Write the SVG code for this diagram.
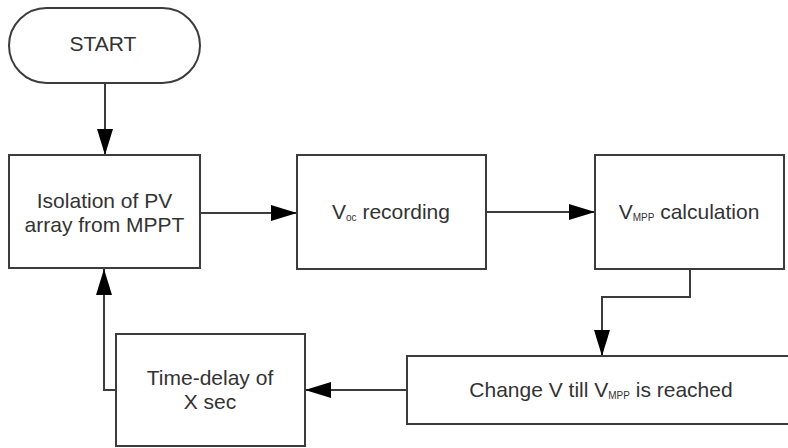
<svg xmlns="http://www.w3.org/2000/svg" width="788" height="448" viewBox="0 0 788 448">
<defs>
<marker id="ah" markerUnits="userSpaceOnUse" markerWidth="26" markerHeight="16" refX="26" refY="8" orient="auto">
<path d="M0,0 L26,8 L0,16 z" fill="#000"/>
</marker>
<style>
.box{fill:#fff;stroke:#3c3c3c;stroke-width:2}
.t{font-family:"Liberation Sans",Arial,sans-serif;font-size:21px;fill:#333;text-anchor:middle}
.sub{font-size:10px}
.c{fill:none;stroke:#3c3c3c;stroke-width:2}
</style>
</defs>
<rect width="788" height="448" fill="#fff"/>
<g id="connectors">
<line class="c" x1="105" y1="83" x2="105" y2="155" marker-end="url(#ah)"/>
<line class="c" x1="200" y1="213" x2="297" y2="213" marker-end="url(#ah)"/>
<line class="c" x1="486" y1="212" x2="595" y2="212" marker-end="url(#ah)"/>
<path class="c" d="M690,269 V297 H602 V356" marker-end="url(#ah)"/>
<line class="c" x1="407" y1="390" x2="305" y2="390" marker-end="url(#ah)"/>
<path class="c" d="M116,390 H104 V269" marker-end="url(#ah)"/>
</g>
<g id="start">
<rect class="box" x="9" y="8" width="191" height="75" rx="37.5" ry="37.5"/>
<text class="t" x="103" y="51">START</text>
</g>
<g id="isolation">
<rect class="box" x="9" y="155" width="191" height="113"/>
<text class="t" x="104.5" y="208">Isolation of PV</text>
<text class="t" x="104.5" y="232">array from MPPT</text>
</g>
<g id="voc">
<rect class="box" x="297" y="155" width="189" height="114"/>
<text class="t" x="391" y="219">V<tspan class="sub" dy="2">oc</tspan><tspan dy="-2"> recording</tspan></text>
</g>
<g id="vmpp">
<rect class="box" x="595" y="155" width="189" height="114"/>
<text class="t" x="689" y="219">V<tspan class="sub" dy="2">MPP</tspan><tspan dy="-2"> calculation</tspan></text>
</g>
<g id="change">
<rect class="box" x="407" y="356" width="390" height="68"/>
<text class="t" x="601" y="397">Change V till V<tspan class="sub" dy="2">MPP</tspan><tspan dy="-2"> is reached</tspan></text>
</g>
<g id="delay">
<rect class="box" x="116" y="334" width="189" height="112"/>
<text class="t" x="210" y="385">Time-delay of</text>
<text class="t" x="210" y="409">X sec</text>
</g>
</svg>
